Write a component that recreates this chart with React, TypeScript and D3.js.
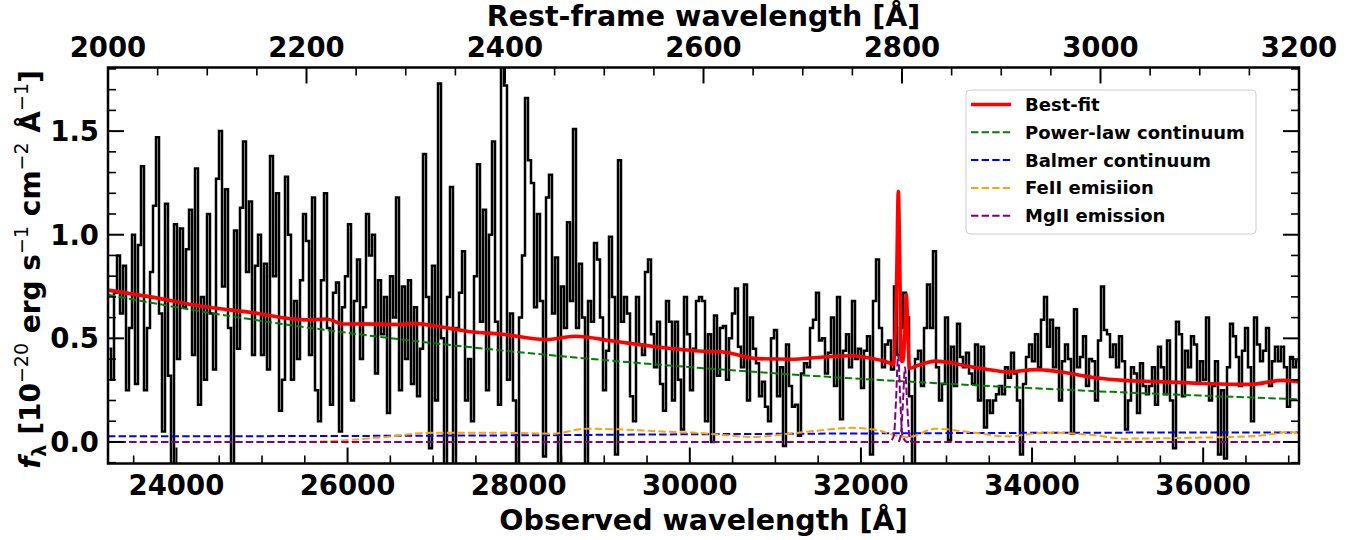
import React from "react";
import * as d3 from "d3";

// ---------------- data ----------------
const OBS_START = 23200; // observed wavelength of first pixel edge [Å]
const OBS_END = 37120; // observed wavelength of last pixel edge [Å]
const REST_START = 2000;
const REST_END = 3200;
const ONE_PLUS_Z = 11.6;

// observed flux, one value per pixel (10^-20 erg/s/cm2/Å)
const fluxObserved = [
  0.45, 0.30, 0.72, 0.90, 0.62, 0.85, 0.25, 0.55, 1.00, 0.28,
  0.95, 1.33, 0.25, 0.55, 0.82, 1.14, 1.47, 0.62, 0.05, 1.15,
  0.32, -0.12, 1.05, 0.40, 1.03, 0.65, 0.93, 1.12, 0.42, 1.32,
  0.18, 0.70, 0.30, 1.10, 0.62, 0.35, 1.27, 1.50, 0.75, 1.22,
  0.55, -0.12, 1.02, 0.45, 1.13, 1.45, 0.82, 1.16, 0.42, 0.85,
  1.00, 0.42, 0.86, 0.35, 1.38, 0.80, 1.20, 0.15, 0.30, 1.28,
  1.00, 0.30, 0.68, 0.40, 0.78, 1.10, 0.97, 0.42, 1.18, 0.25,
  0.10, 0.78, 1.20, 0.55, 0.18, 0.72, 0.77, 0.05, 0.65, 0.80,
  1.05, 0.20, 0.68, 0.88, 0.40, 0.65, 1.10, 0.90, 1.00, 0.33,
  0.78, 0.52, 0.70, 0.14, 0.80, 0.60, 1.18, 0.25, 0.75, 0.40,
  0.78, 0.28, 0.65, 0.22, 0.45, 1.39, 0.70, -0.03, 0.85, 0.20,
  1.73, 0.50, -0.15, 0.70, 1.23, -0.15, 0.55, 0.72, 0.92, 0.20,
  0.40, 0.10, 0.80, 1.34, 0.58, 1.12, 0.25, 1.00, 1.45, 0.58,
  0.18, 1.95, 1.72, 0.30, 0.62, 0.20, -0.15, 0.60, 0.90, 1.66,
  1.36, 1.25, 0.65, 1.10, 0.68, -0.07, 1.18, 1.29, 0.62, 0.89,
  -0.15, 0.75, 0.55, 1.06, 0.68, 1.51, 0.55, 0.86, 0.60, -0.15,
  0.68, 0.58, 0.96, 0.88, 0.60, 0.25, 0.44, 0.99, 0.70, -0.06,
  1.36, 0.58, 0.70, 0.62, 0.22, 0.10, 0.70, 0.47, 0.42, 0.82,
  0.88, 0.52, 0.36, 0.58, 0.28, 0.15, 0.68, 0.58, 0.20, 0.58,
  0.30, 0.06, 0.70, 0.52, 0.25, 0.45, 0.68, 0.70, 0.68, 0.10,
  0.52, 0.00, 0.61, 0.32, 0.55, 0.56, 0.30, 0.50, 0.62, 0.74,
  0.46, 0.36, 0.76, 0.20, 0.60, 0.45, 0.38, 0.22, 0.29, 0.17,
  0.10, 0.50, 0.54, 0.22, 0.36, -0.02, 0.47, 0.27, 0.17, 0.18,
  0.03, 0.33, 0.38, 0.36, 0.55, 0.59, 0.72, 0.49, 0.50, 0.33,
  0.43, 0.60, 0.27, 0.70, 0.11, 0.44, 0.52, 0.36, 0.68, 0.40,
  0.45, 0.26, 0.44, 0.51, -0.06, 0.68, 0.88, 0.55, 0.36, 0.47,
  0.49, 0.35, 0.75, 0.42, 0.55, 0.72, 0.60, 0.22, -0.15, 0.40,
  0.44, 0.27, 0.55, 0.76, 0.55, 0.92, 0.36, 0.20, 0.28, 0.60,
  0.01, 0.46, 0.27, 0.57, 0.41, 0.36, 0.43, 0.33, 0.28, 0.47,
  0.20, 0.46, 0.07, 0.20, 0.14, 0.20, 0.23, 0.27, 0.23, 0.36,
  0.31, 0.43, 0.33, 0.20, -0.06, 0.28, 0.41, 0.47, 0.39, 0.52,
  0.36, 0.59, 0.70, 0.46, 0.59, 0.36, 0.55, 0.20, 0.39, 0.47,
  0.40, 0.04, 0.64, 0.36, 0.41, 0.51, 0.27, 0.40, 0.39, 0.20,
  0.49, 0.75, 0.54, 0.52, 0.41, 0.47, 0.36, 0.51, 0.39, 0.06,
  0.20, 0.36, 0.33, 0.14, 0.38, 0.27, 0.23, 0.27, 0.36, 0.18,
  0.46, 0.36, 0.23, 0.49, 0.20, -0.03, 0.58, 0.52, 0.22, 0.44,
  0.36, 0.51, 0.47, 0.28, 0.39, 0.30, 0.60, 0.20, 0.27, 0.39,
  -0.06, 0.25, -0.08, 0.36, 0.57, 0.51, 0.41, 0.27, 0.44, 0.55,
  0.36, 0.10, 0.60, 0.47, 0.39, 0.44, 0.55, 0.27, 0.39, 0.46,
  0.39, 0.46, 0.36, 0.17, 0.41, 0.36, 0.39,
];

// best-fit model (observed Å, flux)
const bestFitWave = [
  23200, 23700, 24290, 24870, 25510, 25750, 25960, 26160, 26620, 26740,
  27210, 27440, 27790, 28310, 28660, 29100, 29480, 30070, 30390, 30790,
  31180, 31560, 31880, 32030, 32340, 32379, 32418, 32437, 32456, 32472,
  32496, 32516, 32531, 32548, 32566, 32670, 32870, 33060, 33250, 33450,
  33720, 34040, 34300, 34740, 35070, 35460, 35850, 36200, 36550, 36930,
  37120,
];
const bestFitFlux = [
  0.733, 0.700, 0.655, 0.625, 0.589, 0.593, 0.569, 0.570, 0.567, 0.572,
  0.547, 0.532, 0.521, 0.494, 0.510, 0.487, 0.466, 0.440, 0.434, 0.402,
  0.399, 0.410, 0.416, 0.410, 0.381, 0.375, 0.800, 1.210, 0.800, 0.390,
  0.392, 0.560, 0.710, 0.540, 0.356, 0.370, 0.390, 0.382, 0.365, 0.352,
  0.338, 0.349, 0.340, 0.310, 0.297, 0.291, 0.285, 0.280, 0.278, 0.297,
  0.290,
];

// power-law continuum (rest Å, flux)
const powerLawRest = [2000, 2100, 2200, 2300, 2400, 2500, 2600, 2700, 2800, 2900, 3000, 3100, 3200];
const powerLawFlux = [0.710, 0.625, 0.553, 0.492, 0.440, 0.395, 0.356, 0.322, 0.293, 0.267, 0.244, 0.224, 0.206];

// Balmer continuum (observed Å, flux)
const balmerWave = [23200, 26000, 28000, 30000, 32000, 34000, 37120];
const balmerFlux = [0.027, 0.029, 0.032, 0.037, 0.041, 0.044, 0.046];

// FeII emission (observed Å, flux)
const feiiWave = [
  23200, 25450, 25800, 26390, 26970, 27800, 28400, 28780, 29210, 29750,
  30070, 30770, 31160, 31620, 31880, 32200, 32400, 32554, 32869, 33255,
  33722, 34154, 34738, 35065, 35847, 36314, 36700, 37015, 37120,
];
const feiiFlux = [
  0.000, 0.000, 0.004, 0.022, 0.044, 0.044, 0.040, 0.064, 0.060, 0.049,
  0.044, 0.024, 0.040, 0.060, 0.068, 0.056, 0.032, 0.024, 0.064, 0.048,
  0.027, 0.045, 0.032, 0.016, 0.020, 0.024, 0.032, 0.048, 0.040,
];

// MgII emission: full-range component (2796) and local 2803 component (observed Å, flux)
const mgiiAWave = [23200, 32330, 32385, 32410, 32435, 32460, 32485, 32540, 37120];
const mgiiAFlux = [0, 0, 0.03, 0.20, 0.42, 0.20, 0.03, 0, 0];
const mgiiBWave = [32440, 32465, 32490, 32515, 32540, 32565, 32590];
const mgiiBFlux = [0, 0.03, 0.18, 0.36, 0.18, 0.03, 0];

// ticks
const bottomMajorTicks = [24000, 26000, 28000, 30000, 32000, 34000, 36000];
const topMajorTicks = [2000, 2200, 2400, 2600, 2800, 3000, 3200];
const leftMajorTicks = [0.0, 0.5, 1.0, 1.5];

const legendLabels = ["Best-fit", "Power-law continuum", "Balmer continuum", "FeII emisiion", "MgII emission"];
const legendColors = ["#ff0000", "#008000", "#0000ff", "#ffa500", "#800080"];

// ---------------- chart ----------------
const W = 1361;
const H = 540;
const PL = 108, PR = 1299, PT = 67.5, PB = 463.5;
const FONT = "'DejaVu Sans', sans-serif";

export default function App() {
  const x = d3.scaleLinear().domain([OBS_START, OBS_END]).range([PL, PR]);
  const xTop = d3.scaleLinear().domain([REST_START, REST_END]).range([PL, PR]);
  const y = d3.scaleLinear().domain([-0.104, 1.807]).range([PB, PT]);

  const step = (OBS_END - OBS_START) / fluxObserved.length;
  const specPts: [number, number][] = fluxObserved.map((f, i) => [OBS_START + (i + 0.5) * step, f]);
  const stepLine = d3
    .line<[number, number]>()
    .x((d) => x(d[0]))
    .y((d) => y(d[1]))
    .curve(d3.curveStep);
  const smooth = d3
    .line<[number, number]>()
    .x((d) => x(d[0]))
    .y((d) => y(d[1]))
    .curve(d3.curveMonotoneX);

  const zip = (a: number[], b: number[]) => a.map((v, i) => [v, b[i]] as [number, number]);
  const bestFit = zip(bestFitWave, bestFitFlux);
  const powerLaw = zip(powerLawRest.map((r) => r * ONE_PLUS_Z), powerLawFlux);
  const balmer = zip(balmerWave, balmerFlux);
  const feii = zip(feiiWave, feiiFlux);
  const mgA = zip(mgiiAWave, mgiiAFlux);
  const mgB = zip(mgiiBWave, mgiiBFlux);

  const bottomMinor = d3.range(23500, OBS_END, 500).filter((v) => !bottomMajorTicks.includes(v));
  const topMinor = d3.range(2050, REST_END, 50).filter((v) => v % 200 !== 0);
  const leftMinor = d3
    .range(-0.1, 1.81, 0.1)
    .map((v) => Math.round(v * 10) / 10)
    .filter((v) => Math.abs(v * 2 - Math.round(v * 2)) > 1e-6);

  const MAJ = 16;
  const MIN = 8;
  const dash = "7.4 3.2";

  return (
    <svg width={W} height={H} style={{ position: "absolute", left: 0, top: 0, background: "#fff" }} fontFamily={FONT}>
      <rect x={0} y={0} width={W} height={H} fill="#fff" />
      <defs>
        <clipPath id="plotclip">
          <rect x={PL} y={PT} width={PR - PL} height={PB - PT} />
        </clipPath>
      </defs>
      <g clipPath="url(#plotclip)">
        <path d={stepLine(specPts) || ""} fill="none" stroke="#000" strokeWidth={2.5} strokeLinejoin="miter" />
        <path d={smooth(bestFit) || ""} fill="none" stroke="#ff0000" strokeWidth={3.6} strokeLinejoin="round" />
        <path d={smooth(powerLaw) || ""} fill="none" stroke="#008000" strokeWidth={2} strokeDasharray={dash} />
        <path d={smooth(balmer) || ""} fill="none" stroke="#0000ff" strokeWidth={2} strokeDasharray={dash} />
        <path d={smooth(feii) || ""} fill="none" stroke="#ffa500" strokeWidth={2} strokeDasharray={dash} />
        <path d={smooth(mgA) || ""} fill="none" stroke="#800080" strokeWidth={2} strokeDasharray={dash} />
        <path d={smooth(mgB) || ""} fill="none" stroke="#800080" strokeWidth={2} strokeDasharray={dash} />
      </g>

      {/* ticks */}
      <g stroke="#000">
        {bottomMajorTicks.map((t) => (
          <line key={"bM" + t} x1={x(t)} x2={x(t)} y1={PB} y2={PB - MAJ} strokeWidth={2} />
        ))}
        {bottomMinor.map((t) => (
          <line key={"bm" + t} x1={x(t)} x2={x(t)} y1={PB} y2={PB - MIN} strokeWidth={1.6} />
        ))}
        {topMajorTicks.map((t) => (
          <line key={"tM" + t} x1={xTop(t)} x2={xTop(t)} y1={PT} y2={PT + MAJ} strokeWidth={2} />
        ))}
        {topMinor.map((t) => (
          <line key={"tm" + t} x1={xTop(t)} x2={xTop(t)} y1={PT} y2={PT + MIN} strokeWidth={1.6} />
        ))}
        {leftMajorTicks.map((t) => (
          <g key={"lM" + t}>
            <line x1={PL} x2={PL + MAJ} y1={y(t)} y2={y(t)} strokeWidth={2} />
            <line x1={PR} x2={PR - MAJ} y1={y(t)} y2={y(t)} strokeWidth={2} />
          </g>
        ))}
        {leftMinor.map((t) => (
          <g key={"lm" + t}>
            <line x1={PL} x2={PL + MIN} y1={y(t)} y2={y(t)} strokeWidth={1.6} />
            <line x1={PR} x2={PR - MIN} y1={y(t)} y2={y(t)} strokeWidth={1.6} />
          </g>
        ))}
      </g>
      <rect x={PL} y={PT} width={PR - PL} height={PB - PT} fill="none" stroke="#000" strokeWidth={2.5} />

      {/* tick labels */}
      <g fontSize={27.5} fontWeight="bold" fill="#000">
        {bottomMajorTicks.map((t) => (
          <text key={"bl" + t} x={x(t)} y={495} textAnchor="middle">
            {t}
          </text>
        ))}
        {topMajorTicks.map((t) => (
          <text key={"tl" + t} x={xTop(t)} y={57} textAnchor="middle">
            {t}
          </text>
        ))}
        {leftMajorTicks.map((t) => (
          <text key={"ll" + t} x={99} y={y(t) + 10} textAnchor="end">
            {t.toFixed(1)}
          </text>
        ))}
      </g>

      {/* axis labels */}
      <text x={(PL + PR) / 2} y={530} textAnchor="middle" fontSize={28.5} fontWeight="bold">
        Observed wavelength [Å]
      </text>
      <text x={(PL + PR) / 2} y={26} textAnchor="middle" fontSize={28.5} fontWeight="bold">
        Rest-frame wavelength [Å]
      </text>
      <text transform={`translate(40,${(PT + PB) / 2 + 4}) rotate(-90)`} textAnchor="middle" fontSize={28} fontWeight="bold">
        <tspan fontStyle="italic">f</tspan>
        <tspan fontSize={19} dy={6}>λ</tspan>
        <tspan dy={-6}> [10</tspan>
        <tspan fontSize={19} fontWeight="normal" dy={-12}>−20</tspan>
        <tspan dy={12}> erg s</tspan>
        <tspan fontSize={19} fontWeight="normal" dy={-12}>−1</tspan>
        <tspan dy={12}> cm</tspan>
        <tspan fontSize={19} fontWeight="normal" dy={-12}>−2</tspan>
        <tspan dy={12}> Å</tspan>
        <tspan fontSize={19} fontWeight="normal" dy={-12}>−1</tspan>
        <tspan dy={12}>]</tspan>
      </text>

      {/* legend */}
      <g>
        <rect x={966} y={90} width={290} height={144} rx={4} ry={4} fill="#fff" fillOpacity={0.8} stroke="#cccccc" strokeWidth={1} />
        {legendLabels.map((lab, i) => {
          const cy = 104.5 + i * 27.8;
          return (
            <g key={lab}>
              <line
                x1={971}
                x2={1011}
                y1={cy}
                y2={cy}
                stroke={legendColors[i]}
                strokeWidth={i === 0 ? 3.6 : 2}
                strokeDasharray={i === 0 ? undefined : dash}
              />
              <text x={1025} y={cy + 6.5} fontSize={18} fontWeight="bold">
                {lab}
              </text>
            </g>
          );
        })}
      </g>
    </svg>
  );
}
